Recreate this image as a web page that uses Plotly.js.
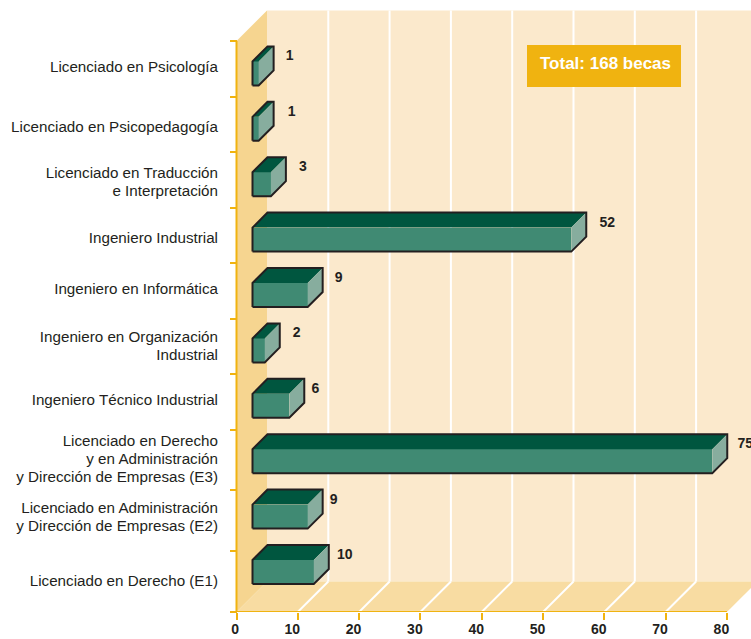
<!DOCTYPE html>
<html><head><meta charset="utf-8">
<script src="https://cdn.plot.ly/plotly-3.0.1.min.js"></script>
<style>html,body{margin:0;padding:0;background:#fff;overflow:hidden}</style>
</head><body><div id="chart" style="width:751px;height:639px"></div>
<script>
// Data (bottom to top)
const categories = [
  "Licenciado en Derecho (E1)",
  "Licenciado en Administración<br>y Dirección de Empresas (E2)",
  "Licenciado en Derecho<br>y en Administración<br>y Dirección de Empresas (E3)",
  "Ingeniero Técnico Industrial",
  "Ingeniero en Organización<br>Industrial",
  "Ingeniero en Informática",
  "Ingeniero Industrial",
  "Licenciado en Traducción<br>e Interpretación",
  "Licenciado en Psicopedagogía",
  "Licenciado en Psicología"
];
const values = [10, 9, 75, 6, 2, 9, 52, 3, 1, 1];
const xTicks = [0, 10, 20, 30, 40, 50, 60, 70, 80];
const totalText = "Total: 168 becas";

// Layout calibration (pixels of the page)
const W = 751, H = 639, mL = 235, mB = 27;
const pxPerX = 6.13, pxPerRow = 55.4;
const plotBottomPx = H - mB, row0Px = 572;
const xMin = -1.5 / pxPerX, xMax = xMin + (W - mL) / pxPerX;
const yMin = (row0Px - plotBottomPx) / pxPerRow, yMax = yMin + plotBottomPx / pxPerRow;
const xOf = px => (px - mL) / pxPerX + xMin;
const yOf = px => (row0Px - px) / pxPerRow;

const depthX = 15 / pxPerX, depthY = 15 / pxPerRow;       // bar depth, axis units
const wallX = 30.5 / pxPerX, wallY = 30.5 / pxPerRow;     // wall depth, axis units
const barBase = 16 / pxPerX, barHeight = 24 / pxPerRow;
const rowTickPx = [41, 97, 152, 208, 263, 319, 374, 430, 490, 551, 612];
const labelPx = [581, 517, 459, 400, 346, 289, 238, 182, 127, 67];
const valueDx = [16, 11, 18, 11, 17, 16, 21, 17, 18, 16];
const valueDy = 10.5;
const xLabelShiftPx = [1.4, 5.5, 5.5, 5.5, 5.5, 5.5, 5.5, 5.5, 5.5];

const cBack = "#fbe9cc", cLeft = "#f6d590", cFloor = "#f8dca2", cAxis = "#f0b310",
      cTop = "#00563f", cFront = "#408a73", cSide = "#87ad9e", cEdge = "#231f20", cText = "#231f20";
const font = "Liberation Sans, Arial, sans-serif";

// Bar faces derived from the values
const rows = values.map((_, i) => i);
const topX = [], topY = [], sideX = [], sideY = [], edgeX = [], edgeY = [];
values.forEach((v, i) => {
  const x0 = barBase, x1 = barBase + v, yT = i + barHeight / 2, yB = i - barHeight / 2;
  topX.push(x0, x0 + depthX, x1 + depthX, x1, x0, null);
  topY.push(yT, yT + depthY, yT + depthY, yT, yT, null);
  sideX.push(x1, x1 + depthX, x1 + depthX, x1, x1, null);
  sideY.push(yT, yT + depthY, yB + depthY, yB, yT, null);
  edgeX.push(x0, x0, x0 + depthX, x1 + depthX, x1 + depthX, x1, x0, null);
  edgeY.push(yB, yT, yT + depthY, yT + depthY, yB + depthY, yB, yB, null);
});

const traces = [
  { type: "bar", orientation: "h", y: rows, x: values, base: barBase, width: barHeight,
    marker: { color: cFront, line: { width: 0 } }, hoverinfo: "skip", showlegend: false },
  { type: "scatter", mode: "lines", x: topX, y: topY, fill: "toself", fillcolor: cTop,
    line: { width: 0 }, hoverinfo: "skip", showlegend: false },
  { type: "scatter", mode: "lines", x: sideX, y: sideY, fill: "toself", fillcolor: cSide,
    line: { width: 0 }, hoverinfo: "skip", showlegend: false },
  { type: "scatter", mode: "lines", x: edgeX, y: edgeY,
    line: { color: cEdge, width: 2 }, hoverinfo: "skip", showlegend: false },
  { type: "scatter", mode: "text",
    x: values.map((v, i) => barBase + v + depthX + valueDx[i] / pxPerX),
    y: rows.map(i => i + barHeight / 2 + depthY - valueDy / pxPerRow),
    text: values.map(String), textposition: "middle center", cliponaxis: false,
    textfont: { family: font, size: 14, color: cText, weight: 700 },
    hoverinfo: "skip", showlegend: false },
  { type: "scatter", mode: "none", x: [0], y: [0], xaxis: "x2", yaxis: "y2", hoverinfo: "skip", showlegend: false }
];

const wallBottom = yOf(plotBottomPx), wallTopFront = yOf(41);
const poly = (pts, fill) => ({
  type: "path", xref: "x", yref: "y", layer: "below", fillcolor: fill, line: { width: 0 },
  path: "M" + pts.map(p => p[0] + "," + p[1]).join("L") + "Z"
});
const seg = (x0, y0, x1, y1, color, width, layer) => ({
  type: "line", xref: "x", yref: "y", x0, y0, x1, y1, layer: layer || "below", line: { color, width }
});
const shapes = [
  poly([[wallX, wallBottom + wallY], [xMax, wallBottom + wallY], [xMax, wallTopFront + wallY], [wallX, wallTopFront + wallY]], cBack),
  poly([[0, wallBottom], [80, wallBottom], [80 + wallX, wallBottom + wallY], [wallX, wallBottom + wallY]], cFloor),
  poly([[0, wallBottom], [wallX, wallBottom + wallY], [wallX, wallTopFront + wallY], [0, wallTopFront]], cLeft)
];
xTicks.slice(1, -1).forEach(t => {
  shapes.push(seg(t + wallX, wallBottom + wallY, t + wallX, wallTopFront + wallY, "#ffffff", 2));
  shapes.push(seg(t, wallBottom, t + wallX, wallBottom + wallY, "#ffffff", 2));
});
shapes.push(seg(0, wallBottom, 0, wallTopFront, cAxis, 2));
shapes.push(seg(0, wallBottom, 80, wallBottom, cAxis, 2));
shapes.push({ type: "rect", xref: "x", yref: "y", layer: "below", x0: xOf(527), x1: xOf(681), y0: yOf(87), y1: yOf(45),
  fillcolor: "#f0b310", line: { width: 0 } });

// Keeps the reference's 18px line pitch while drawing the glyphs at 15px
const sized = s => s.split("<br>").map(l => '<span style="font-size:15.2px">' + l + "</span>").join("<br>");

const layout = {
  width: W, height: H, paper_bgcolor: "#fff", plot_bgcolor: "rgba(0,0,0,0)",
  margin: { l: mL, r: 0, t: 0, b: mB, pad: 0 }, showlegend: false, bargap: 0,
  font: { family: font, color: cText },
  xaxis: { range: [xMin, xMax], tickmode: "array", tickvals: xTicks.map((t, i) => t - xLabelShiftPx[i] / pxPerX),
    ticktext: xTicks.map(String), ticks: "", ticklabelstandoff: 7, showgrid: false, zeroline: false, showline: false,
    tickfont: { family: font, size: 14, color: cText, weight: 700 }, fixedrange: true },
  xaxis2: { overlaying: "x", side: "bottom", anchor: "y", range: [xMin, xMax], tickmode: "array", tickvals: xTicks,
    showticklabels: false, ticks: "outside", ticklen: 7, tickwidth: 2, tickcolor: cAxis,
    showgrid: false, zeroline: false, showline: false, fixedrange: true },
  yaxis: { range: [yMin, yMax], tickmode: "array", tickvals: labelPx.map(yOf), ticktext: categories.map(sized),
    ticks: "", showgrid: false, zeroline: false, showline: false, ticklabelstandoff: 16,
    tickfont: { family: font, size: 14, color: cText }, fixedrange: true },
  yaxis2: { overlaying: "y", side: "left", anchor: "free", position: 1.5 / (W - mL), range: [yMin, yMax],
    tickmode: "array", tickvals: rowTickPx.map(yOf),
    showticklabels: false, ticks: "outside", ticklen: 7, tickwidth: 2, tickcolor: cAxis,
    showgrid: false, zeroline: false, showline: false, fixedrange: true },
  shapes,
  annotations: [{ x: xOf(605.5), y: yOf(63.5), xref: "x", yref: "y", text: totalText, showarrow: false,
    font: { family: font, size: 17, color: "#ffffff", weight: 700 } }]
};
Plotly.newPlot("chart", traces, layout, { displayModeBar: false, staticPlot: true });
</script></body></html>
